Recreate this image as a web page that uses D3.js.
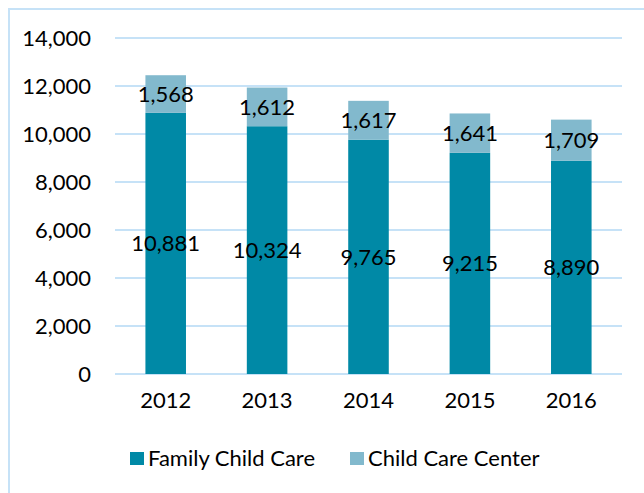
<!DOCTYPE html>
<html><head><meta charset="utf-8">
<script src="https://cdn.jsdelivr.net/npm/d3@7"></script>
<style>
html,body{margin:0;padding:0;background:#fff;}
svg{display:block;font-family:Lato,"Noto Sans",sans-serif;}
</style></head>
<body>
<svg id="chart" width="644" height="493"></svg>
<script>
const years = ["2012","2013","2014","2015","2016"];
const familyChildCare = [10881, 10324, 9765, 9215, 8890];
const childCareCenter = [1568, 1612, 1617, 1641, 1709];
const yTicks = [0, 2000, 4000, 6000, 8000, 10000, 12000, 14000];
const seriesNames = ["Family Child Care", "Child Care Center"];
const colors = ["#0089a6", "#82b9cd"];

const svg = d3.select("#chart");
const fmt = d3.format(",");
const FS = 22;

// frame
svg.append("path").attr("d","M9,493 V9 H644").attr("fill","none")
  .attr("stroke","#c6e2f7").attr("stroke-width",2);

const x = d3.scaleBand().domain(years).range([115, 622]).paddingInner(0.6).paddingOuter(0.3);
const y = d3.scaleLinear().domain([0, 14000]).range([374, 38]);

// grid
svg.append("g").selectAll("line").data(yTicks).join("line")
  .attr("x1",115).attr("x2",622)
  .attr("y1",d=>y(d)).attr("y2",d=>y(d))
  .attr("stroke","#c6e2f7").attr("stroke-width",2);

// y axis labels
const yAxis = d3.axisLeft(y).tickValues(yTicks).tickFormat(fmt).tickSize(0).tickPadding(0);
const yg = svg.append("g").attr("transform","translate(91,0)").call(yAxis);
yg.select(".domain").remove();
yg.selectAll("text").attr("font-size",FS).attr("fill","#000").attr("font-family","Lato,'Noto Sans',sans-serif");

// x axis labels
const xAxis = d3.axisBottom(x).tickSize(0).tickPadding(0);
const xg = svg.append("g").attr("transform","translate(0,392)").call(xAxis);
xg.select(".domain").remove();
xg.selectAll("text").attr("font-size",FS).attr("fill","#000").attr("font-family","Lato,'Noto Sans',sans-serif");

const data = years.map((yr,i)=>({year:yr, a:familyChildCare[i], b:childCareCenter[i]}));
const stack = d3.stack().keys(["a","b"])(data);

stack.forEach((layer,li)=>{
  svg.append("g").selectAll("rect").data(layer).join("rect")
    .attr("x",d=>x(d.data.year))
    .attr("width",x.bandwidth())
    .attr("y",d=>y(d[1]))
    .attr("height",d=>y(d[0])-y(d[1]))
    .attr("fill",colors[li]);
  svg.append("g").selectAll("text").data(layer).join("text")
    .attr("x",d=>x(d.data.year)+x.bandwidth()/2)
    .attr("y",d=>(y(d[0])+y(d[1]))/2)
    .attr("dy","0.36em")
    .attr("text-anchor","middle")
    .attr("font-size",FS)
    .attr("fill","#000")
    .text(d=>fmt(d[1]-d[0]));
});

// legend
const legendX = [130, 350];
const lg = svg.append("g");
seriesNames.forEach((n,i)=>{
  lg.append("rect").attr("x",legendX[i]).attr("y",452).attr("width",14).attr("height",13).attr("fill",colors[i]);
  lg.append("text").attr("x",legendX[i]+18).attr("y",458.5).attr("dy","0.36em")
    .attr("font-size",FS).attr("fill","#000").text(n);
});
</script>
</body></html>
